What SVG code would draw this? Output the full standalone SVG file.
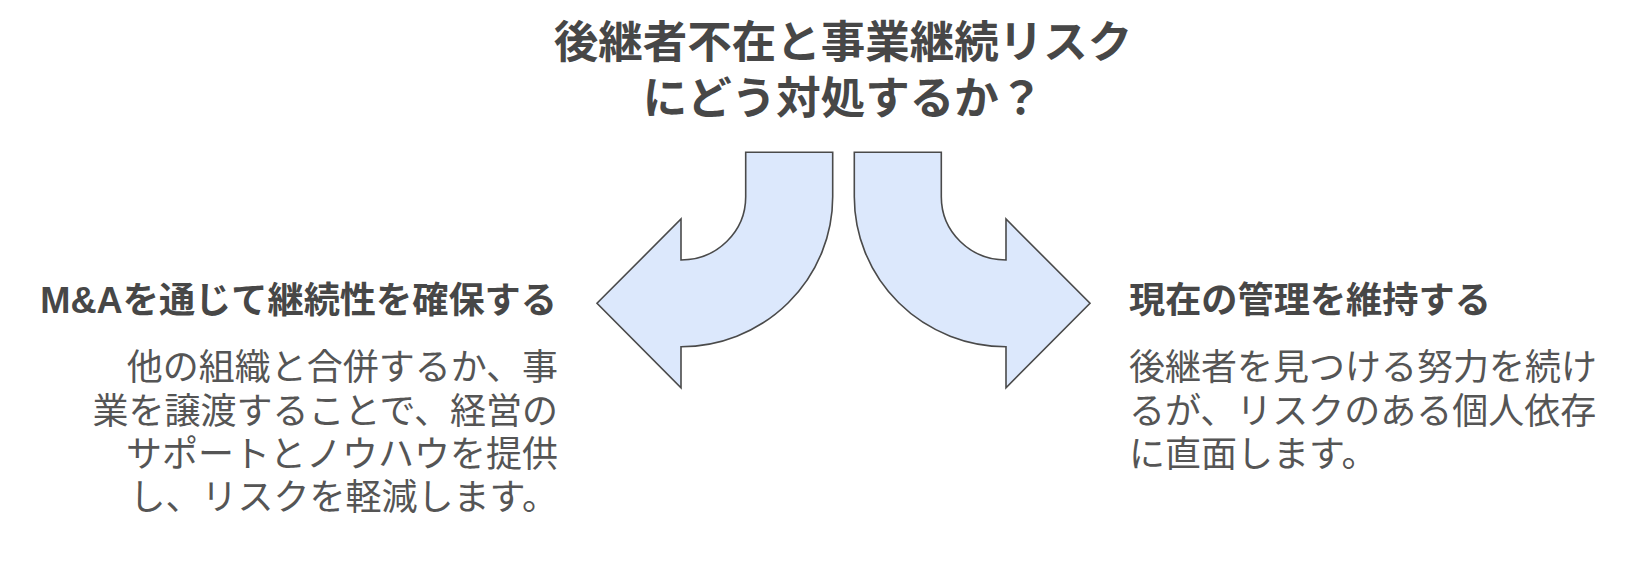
<svg xmlns="http://www.w3.org/2000/svg" width="1644" height="564" viewBox="0 0 1644 564">
<style>
.t{font-family:"Noto Sans CJK JP","Noto Sans",sans-serif;}
.lat{font-family:"Liberation Sans","Noto Sans CJK JP",sans-serif;}
.title{font-size:44.5px;font-weight:700;fill:#474747;}
.head{font-size:36.2px;font-weight:700;fill:#474747;}
.body{font-size:36px;font-weight:400;fill:#555555;}
.arrow{fill:#dce8fc;stroke:#4a4a4a;stroke-width:1.6;stroke-linejoin:miter;}
</style>
<rect width="1644" height="564" fill="#ffffff"/>
<g id="title">
<text class="t title" x="843" y="58" text-anchor="middle">後継者不在と事業継続リスク</text>
<text class="t title" x="843" y="114" text-anchor="middle">にどう対処するか？</text>
</g>
<g id="connectors">
<path class="arrow" d="M 745.7 152.3 L 832.7 152.3 L 832.7 196.7 A 151.7 150 0 0 1 681 346.7 L 681 387.7 L 597 303.3 L 681 219 L 681 260 A 64.7 63.3 0 0 0 745.7 196.7 Z"/>
<path class="arrow" d="M 941.3 152.3 L 854.3 152.3 L 854.3 196.7 A 151.7 150 0 0 0 1006 346.7 L 1006 387.7 L 1090 303.3 L 1006 219 L 1006 260 A 64.7 63.3 0 0 1 941.3 196.7 Z"/>
</g>
<g id="node-ma">
<text class="t head" x="557" y="313" text-anchor="end"><tspan class="lat">M&amp;A</tspan>を通じて継続性を確保する</text>
<text class="t body" x="558" y="380" text-anchor="end">他の組織と合併するか、事</text>
<text class="t body" x="558" y="423.5" text-anchor="end">業を譲渡することで、経営の</text>
<text class="t body" x="558" y="467" text-anchor="end">サポートとノウハウを提供</text>
<text class="t body" x="558" y="510" text-anchor="end">し、リスクを軽減します。</text>
</g>
<g id="node-keep">
<text class="t head" x="1129" y="313">現在の管理を維持する</text>
<text class="t body" x="1129" y="380">後継者を見つける努力を続け</text>
<text class="t body" x="1129" y="423.5">るが、リスクのある個人依存</text>
<text class="t body" x="1129" y="467">に直面します。</text>
</g>
</svg>
